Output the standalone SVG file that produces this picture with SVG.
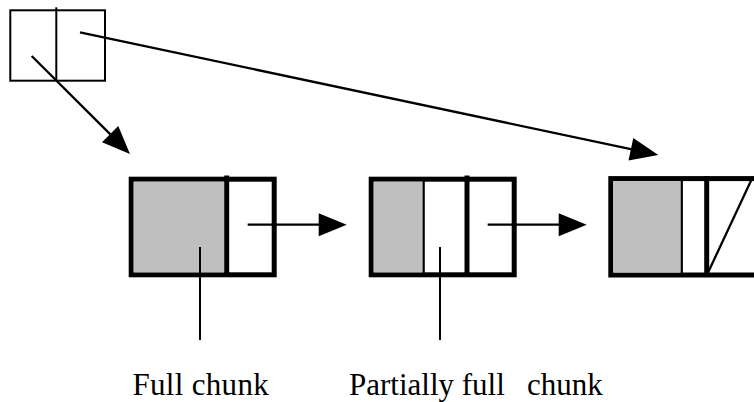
<svg xmlns="http://www.w3.org/2000/svg" width="754" height="402" viewBox="0 0 754 402">
<style>
.thin{fill:none;stroke:#000;stroke-width:2}
.outer{fill:#fff;stroke:#000;stroke-width:5}
.grey{fill:#bfbfbf;stroke:none}
.div{stroke:#000;stroke-width:5}
.div2{stroke:#000;stroke-width:2.2}
.conn{fill:none;stroke:#000;stroke-width:2.3}
.lbl{font-family:"Liberation Serif","Times New Roman",serif;font-size:31px;fill:#000;white-space:pre}
</style>
<defs>
<marker id="ah" markerUnits="userSpaceOnUse" viewBox="-22 -13 34 26" markerWidth="34" markerHeight="26" refX="0" refY="0" orient="auto" overflow="visible">
<path d="M10,0 L-18,-11.5 L-18,11.5 Z" fill="#000"/>
</marker>
</defs>
<g id="head">
<rect class="thin" x="10.3" y="10.3" width="94.7" height="70.4"/>
<line class="thin" x1="56.3" y1="7.3" x2="56.3" y2="81"/>
</g>
<g id="chunk1">
<rect class="outer" x="131.2" y="179.2" width="143" height="95.6"/>
<rect class="grey" x="133.7" y="181.7" width="90.5" height="90.6"/>
<line class="div" x1="226.7" y1="175.5" x2="226.7" y2="277"/>
</g>
<g id="chunk2">
<rect class="outer" x="371.2" y="179.2" width="143" height="95.6"/>
<rect class="grey" x="373.7" y="181.7" width="49" height="90.6"/>
<line class="div2" x1="423.7" y1="179" x2="423.7" y2="275"/>
<line class="div" x1="467" y1="175.5" x2="467" y2="277"/>
</g>
<g id="chunk3">
<rect class="outer" x="610.8" y="178.6" width="150" height="96.4"/>
<rect class="grey" x="613.3" y="181.1" width="67.4" height="91.4"/>
<line class="div2" x1="681.8" y1="179" x2="681.8" y2="275"/>
<line class="div" x1="706.7" y1="176" x2="706.7" y2="277"/>
<line class="conn" x1="708.3" y1="272" x2="753" y2="176.5" stroke-width="2.5"/>
</g>
<g id="connectors">
<line class="conn" x1="31.7" y1="56" x2="122.9" y2="146.9" marker-end="url(#ah)"/>
<line class="conn" x1="80" y1="32.3" x2="648.5" y2="152.9" marker-end="url(#ah)"/>
<line class="conn" x1="247.7" y1="224.7" x2="336.7" y2="224.7" marker-end="url(#ah)"/>
<line class="conn" x1="487.7" y1="224.7" x2="576.7" y2="224.7" marker-end="url(#ah)"/>
<line class="thin" x1="200" y1="247" x2="200" y2="340"/>
<line class="thin" x1="440" y1="247" x2="440" y2="340"/>
</g>
<g id="labels">
<text class="lbl" x="132.5" y="395" letter-spacing="0.3">Full chunk</text>
<text class="lbl" x="349" y="395">Partially full   <tspan x="527">chunk</tspan></text>
</g>
</svg>
